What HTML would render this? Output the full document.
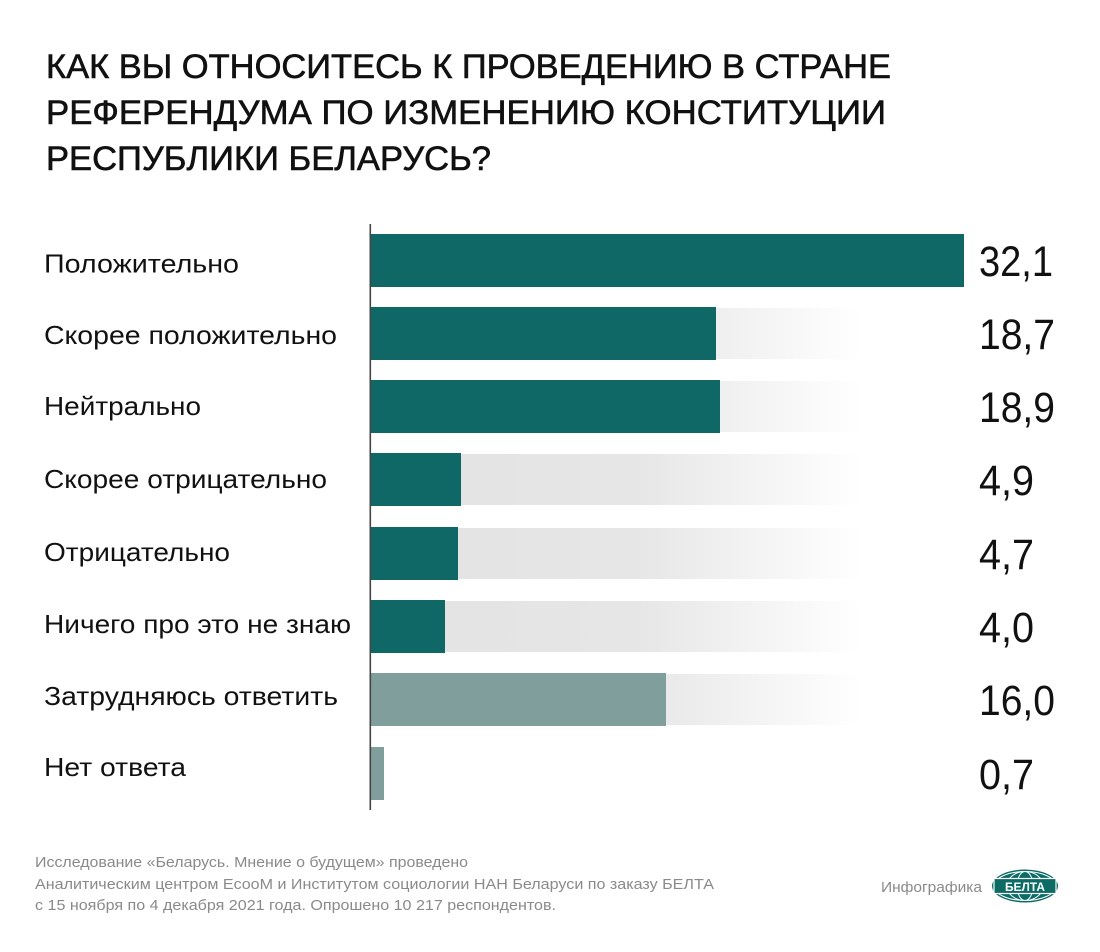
<!DOCTYPE html>
<html>
<head>
<meta charset="utf-8">
<style>
html,body{margin:0;padding:0;background:#fff;}
svg{display:block;}
text{font-family:"Liberation Sans","DejaVu Sans",sans-serif;}
</style>
</head>
<body>
<svg width="1100" height="952" viewBox="0 0 1100 952" xmlns="http://www.w3.org/2000/svg">
<defs>
<linearGradient id="bg" gradientUnits="userSpaceOnUse" x1="371" y1="0" x2="862" y2="0">
<stop offset="0" stop-color="#e3e3e3"/>
<stop offset="0.54" stop-color="#e6e6e6"/>
<stop offset="1" stop-color="#ffffff"/>
</linearGradient>
</defs>
<rect width="1100" height="952" fill="#fff"/>

<!-- Title -->
<g fill="#111" stroke="#111" stroke-width="0.6" font-size="34">
<text x="46" y="78" textLength="845" lengthAdjust="spacingAndGlyphs">КАК ВЫ ОТНОСИТЕСЬ К ПРОВЕДЕНИЮ В СТРАНЕ</text>
<text x="46" y="124" textLength="840" lengthAdjust="spacingAndGlyphs">РЕФЕРЕНДУМА ПО ИЗМЕНЕНИЮ КОНСТИТУЦИИ</text>
<text x="46" y="170" textLength="445" lengthAdjust="spacingAndGlyphs">РЕСПУБЛИКИ БЕЛАРУСЬ?</text>
</g>

<!-- Background gradient tracks -->
<g fill="url(#bg)">
<rect x="371" y="308" width="491" height="51"/>
<rect x="371" y="381" width="491" height="51"/>
<rect x="371" y="454" width="491" height="51"/>
<rect x="371" y="528" width="491" height="51"/>
<rect x="371" y="601" width="491" height="51"/>
<rect x="371" y="674" width="491" height="51"/>
</g>

<!-- Bars -->
<g fill="#0f6766">
<rect x="371" y="234" width="593" height="53"/>
<rect x="371" y="307" width="345" height="53"/>
<rect x="371" y="380" width="349" height="53"/>
<rect x="371" y="453" width="90" height="53"/>
<rect x="371" y="527" width="87" height="53"/>
<rect x="371" y="600" width="74" height="53"/>
</g>
<g fill="#7f9e9c">
<rect x="371" y="673" width="295" height="53"/>
<rect x="371" y="747" width="13" height="53"/>
</g>

<!-- Axis -->
<rect x="369.5" y="224" width="1.6" height="586" fill="#444"/>

<!-- Category labels -->
<g fill="#111" font-size="26">
<text x="44" y="272.5" textLength="195" lengthAdjust="spacingAndGlyphs">Положительно</text>
<text x="44" y="344" textLength="293" lengthAdjust="spacingAndGlyphs">Скорее положительно</text>
<text x="44" y="415" textLength="157" lengthAdjust="spacingAndGlyphs">Нейтрально</text>
<text x="44" y="488" textLength="283" lengthAdjust="spacingAndGlyphs">Скорее отрицательно</text>
<text x="44" y="561" textLength="186" lengthAdjust="spacingAndGlyphs">Отрицательно</text>
<text x="44" y="633" textLength="307" lengthAdjust="spacingAndGlyphs">Ничего про это не знаю</text>
<text x="44" y="705" textLength="294" lengthAdjust="spacingAndGlyphs">Затрудняюсь ответить</text>
<text x="44" y="776" textLength="142" lengthAdjust="spacingAndGlyphs">Нет ответа</text>
</g>

<!-- Values -->
<g fill="#111" font-size="43">
<text x="979" y="276" textLength="74" lengthAdjust="spacingAndGlyphs">32,1</text>
<text x="979" y="349" textLength="76" lengthAdjust="spacingAndGlyphs">18,7</text>
<text x="979" y="422" textLength="76" lengthAdjust="spacingAndGlyphs">18,9</text>
<text x="979" y="495" textLength="55" lengthAdjust="spacingAndGlyphs">4,9</text>
<text x="979" y="569" textLength="55" lengthAdjust="spacingAndGlyphs">4,7</text>
<text x="979" y="642" textLength="55" lengthAdjust="spacingAndGlyphs">4,0</text>
<text x="979" y="715" textLength="76" lengthAdjust="spacingAndGlyphs">16,0</text>
<text x="979" y="789" textLength="55" lengthAdjust="spacingAndGlyphs">0,7</text>
</g>

<!-- Footer -->
<g fill="#8a8a8a" font-size="15">
<text x="35" y="867" textLength="433" lengthAdjust="spacingAndGlyphs">Исследование «Беларусь. Мнение о будущем» проведено</text>
<text x="35" y="889" textLength="679" lengthAdjust="spacingAndGlyphs">Аналитическим центром EcooM и Институтом социологии НАН Беларуси по заказу БЕЛТА</text>
<text x="35" y="910" textLength="521" lengthAdjust="spacingAndGlyphs">с 15 ноября по 4 декабря 2021 года. Опрошено 10 217 респондентов.</text>
<text x="881" y="892" textLength="101" lengthAdjust="spacingAndGlyphs">Инфографика</text>
</g>

<!-- BELTA logo -->
<g>
<ellipse cx="1025" cy="886" rx="33" ry="16.5" fill="#0d6b66"/>
<ellipse cx="1025" cy="886" rx="31" ry="14.5" fill="none" stroke="#fff" stroke-width="1"/>
<ellipse cx="1025" cy="886" rx="18" ry="14.5" fill="none" stroke="#fff" stroke-width="1"/>
<ellipse cx="1025" cy="886" rx="8" ry="14.5" fill="none" stroke="#fff" stroke-width="1"/>
<rect x="994" y="878.5" width="62" height="15" fill="#0d6b66" stroke="#fff" stroke-width="1.2"/>
<text x="1025" y="891" font-size="12" font-weight="bold" fill="#fff" text-anchor="middle" textLength="40" lengthAdjust="spacingAndGlyphs">БЕЛТА</text>
</g>
</svg>
</body>
</html>
